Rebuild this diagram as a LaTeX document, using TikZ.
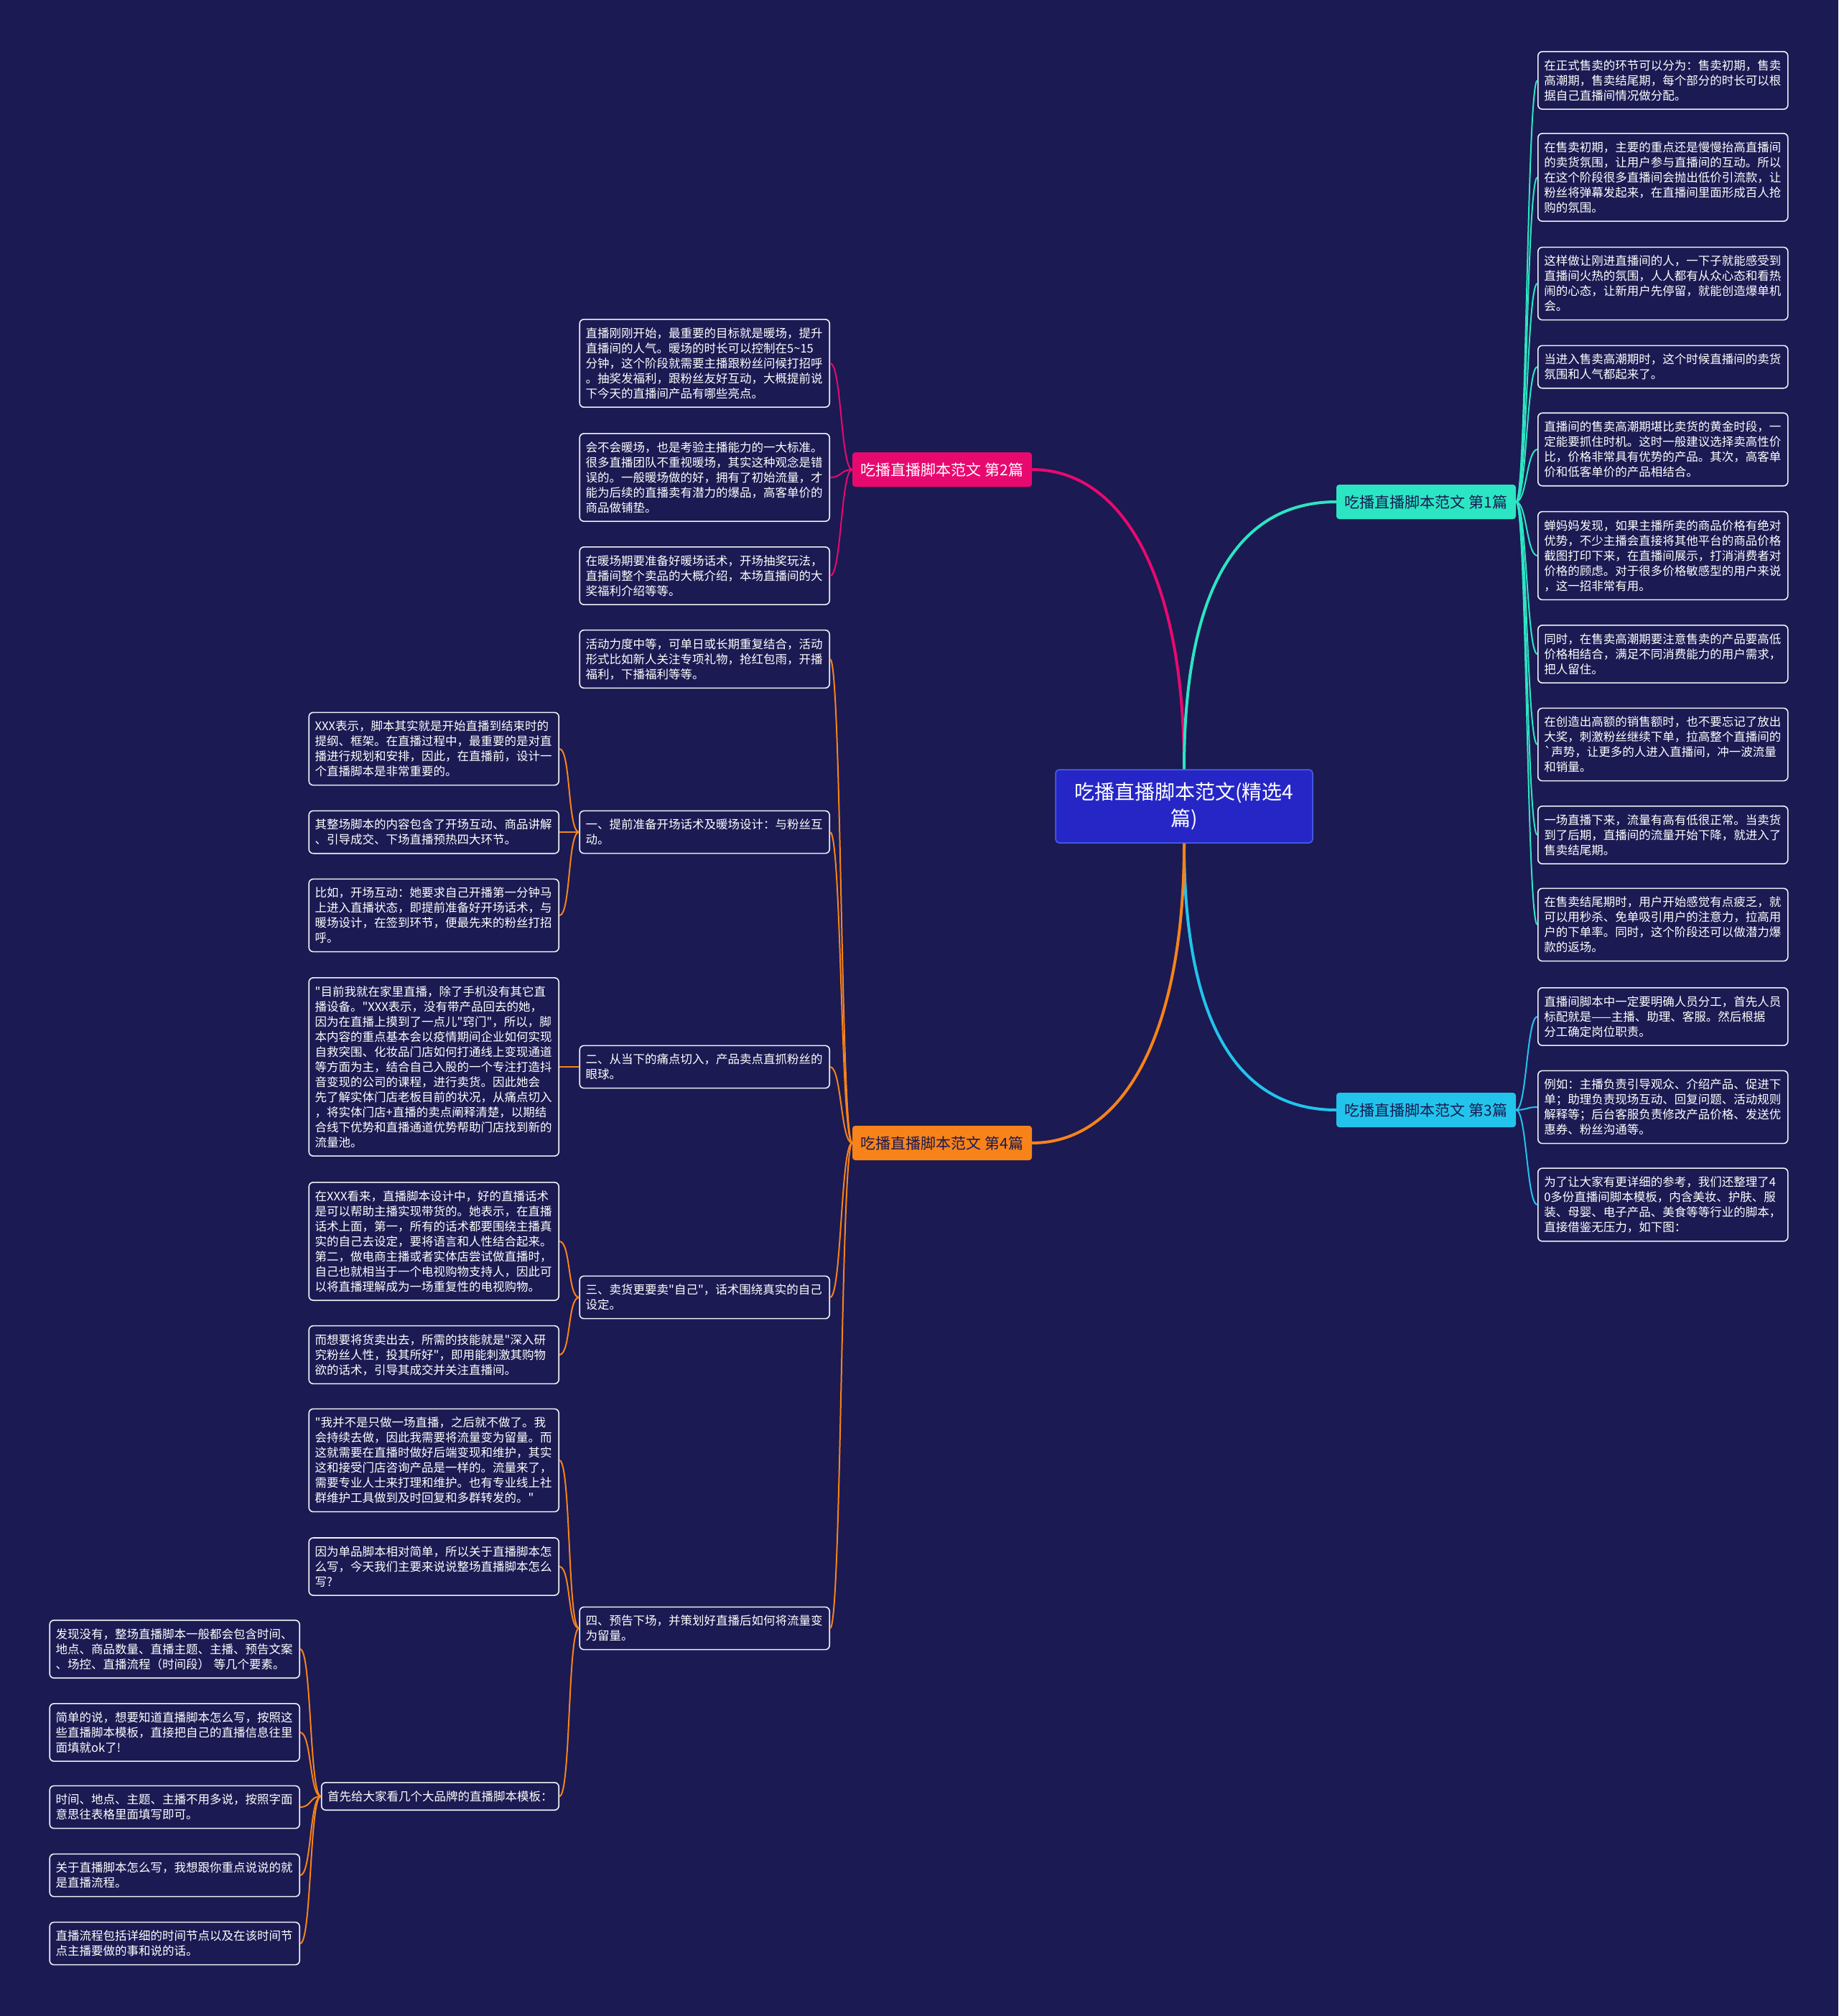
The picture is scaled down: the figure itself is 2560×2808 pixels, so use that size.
\documentclass[tikz,border=0pt]{standalone}
\usepackage{fontspec}
\setmainfont{Noto Sans CJK SC}[Ligatures=TeXOff]
\usepackage{xcolor}
\definecolor{cBg}{HTML}{1B1A52}
\definecolor{cRoot}{HTML}{2626C6}
\definecolor{cRootEdge}{HTML}{4A62E8}
\definecolor{cPink}{HTML}{E8096F}
\definecolor{cTeal}{HTML}{2CE5C2}
\definecolor{cCyan}{HTML}{22C4EC}
\definecolor{cOrange}{HTML}{F7831A}
\definecolor{cCard}{HTML}{F0F0F6}
\usepackage{tikz}
\tikzset{
  node-card/.style={draw=cCard,line width=1.6pt,rounded corners=6pt,fill=cBg,
    text=white,inner xsep=8.5pt,inner ysep=11.5pt,align=left,
    font=\fontsize{16.5}{21}\selectfont},
  node-leaf/.style={node-card,text width=331pt},
  node-branch/.style={rounded corners=4pt,minimum width=250pt,minimum height=48pt,
    inner sep=0pt,font=\fontsize{21}{25}\selectfont},
  node-root/.style={draw=cRootEdge,line width=1.5pt,fill=cRoot,text=white,
    rounded corners=5pt,minimum width=358pt,minimum height=102pt,align=center,
    font=\fontsize{28}{37.5}\selectfont},
  link/.style={line width=2pt},
  link-main/.style={line width=4pt},
  to-left/.style={to path={.. controls +(-16,0) and +(16,0) .. (\tikztotarget)}},
  to-right/.style={to path={.. controls +(15,0) and +(-15,0) .. (\tikztotarget)}},
}

\begin{document}
\begin{tikzpicture}[x=1pt,y=-1pt]
  \fill[cBg] (0,0) rectangle (2560,2808);
  \useasboundingbox (0,0) rectangle (2560,2808);

  % centre and the four branches
  \node[node-root] (root) at (1649,1123) {吃播直播脚本范文(精选4\\篇)};
  \node[node-branch,fill=cPink,text=white] (b2) at (1312,654) {吃播直播脚本范文 第2篇};
  \node[node-branch,fill=cTeal,text=cBg] (b1) at (1986,699) {吃播直播脚本范文 第1篇};
  \node[node-branch,fill=cCyan,text=cBg] (b3) at (1986,1546) {吃播直播脚本范文 第3篇};
  \node[node-branch,fill=cOrange,text=cBg] (b4) at (1312,1592) {吃播直播脚本范文 第4篇};

  % 第1篇
  \node[node-leaf,anchor=west] (r1) at (2141,112) {在正式售卖的环节可以分为：售卖初期，售卖\\
    高潮期，售卖结尾期，每个部分的时长可以根\\
    据自己直播间情况做分配。};
  \node[node-leaf,anchor=west] (r2) at (2141,247) {在售卖初期，主要的重点还是慢慢抬高直播间\\
    的卖货氛围，让用户参与直播间的互动。所以\\
    在这个阶段很多直播间会抛出低价引流款，让\\
    粉丝将弹幕发起来，在直播间里面形成百人抢\\
    购的氛围。};
  \node[node-leaf,anchor=west] (r3) at (2141,395) {这样做让刚进直播间的人，一下子就能感受到\\
    直播间火热的氛围，人人都有从众心态和看热\\
    闹的心态，让新用户先停留，就能创造爆单机\\
    会。};
  \node[node-leaf,anchor=west] (r4) at (2141,511) {当进入售卖高潮期时，这个时候直播间的卖货\\
    氛围和人气都起来了。};
  \node[node-leaf,anchor=west] (r5) at (2141,626) {直播间的售卖高潮期堪比卖货的黄金时段，一\\
    定能要抓住时机。这时一般建议选择卖高性价\\
    比，价格非常具有优势的产品。其次，高客单\\
    价和低客单价的产品相结合。};
  \node[node-leaf,anchor=west] (r6) at (2141,774) {蝉妈妈发现，如果主播所卖的商品价格有绝对\\
    优势，不少主播会直接将其他平台的商品价格\\
    截图打印下来，在直播间展示，打消消费者对\\
    价格的顾虑。对于很多价格敏感型的用户来说\\
    ，这一招非常有用。};
  \node[node-leaf,anchor=west] (r7) at (2141,911) {同时，在售卖高潮期要注意售卖的产品要高低\\
    价格相结合，满足不同消费能力的用户需求，\\
    把人留住。};
  \node[node-leaf,anchor=west] (r8) at (2141,1037) {在创造出高额的销售额时，也不要忘记了放出\\
    大奖，刺激粉丝继续下单，拉高整个直播间的\\
    `声势，让更多的人进入直播间，冲一波流量\\
    和销量。};
  \node[node-leaf,anchor=west] (r9) at (2141,1163) {一场直播下来，流量有高有低很正常。当卖货\\
    到了后期，直播间的流量开始下降，就进入了\\
    售卖结尾期。};
  \node[node-leaf,anchor=west] (r10) at (2141,1288) {在售卖结尾期时，用户开始感觉有点疲乏，就\\
    可以用秒杀、免单吸引用户的注意力，拉高用\\
    户的下单率。同时，这个阶段还可以做潜力爆\\
    款的返场。};

  % 第3篇
  \node[node-leaf,anchor=west] (r11) at (2141,1416) {直播间脚本中一定要明确人员分工，首先人员\\
    标配就是——主播、助理、客服。然后根据\\
    分工确定岗位职责。};
  \node[node-leaf,anchor=west] (r12) at (2141,1542) {例如：主播负责引导观众、介绍产品、促进下\\
    单；助理负责现场互动、回复问题、活动规则\\
    解释等；后台客服负责修改产品价格、发送优\\
    惠券、粉丝沟通等。};
  \node[node-leaf,anchor=west] (r13) at (2141,1678) {为了让大家有更详细的参考，我们还整理了4\\
    0多份直播间脚本模板，内含美妆、护肤、服\\
    装、母婴、电子产品、美食等等行业的脚本，\\
    直接借鉴无压力，如下图：};

  % 第2篇
  \node[node-leaf,anchor=east] (m1) at (1156,506) {直播刚刚开始，最重要的目标就是暖场，提升\\
    直播间的人气。暖场的时长可以控制在5\textasciitilde 15\\
    分钟，这个阶段就需要主播跟粉丝问候打招呼\\
    。抽奖发福利，跟粉丝友好互动，大概提前说\\
    下今天的直播间产品有哪些亮点。};
  \node[node-leaf,anchor=east] (m2) at (1156,665) {会不会暖场，也是考验主播能力的一大标准。\\
    很多直播团队不重视暖场，其实这种观念是错\\
    误的。一般暖场做的好，拥有了初始流量，才\\
    能为后续的直播卖有潜力的爆品，高客单价的\\
    商品做铺垫。};
  \node[node-leaf,anchor=east] (m3) at (1156,802) {在暖场期要准备好暖场话术，开场抽奖玩法，\\
    直播间整个卖品的大概介绍，本场直播间的大\\
    奖福利介绍等等。};

  % 第4篇
  \node[node-leaf,anchor=east] (m4) at (1156,918) {活动力度中等，可单日或长期重复结合，活动\\
    形式比如新人关注专项礼物，抢红包雨，开播\\
    福利，下播福利等等。};
  \node[node-leaf,anchor=east] (s1) at (1156,1159) {一、提前准备开场话术及暖场设计：与粉丝互\\
    动。};
  \node[node-leaf,anchor=east] (s2) at (1156,1486) {二、从当下的痛点切入，产品卖点直抓粉丝的\\
    眼球。};
  \node[node-leaf,anchor=east] (s3) at (1156,1807) {三、卖货更要卖"自己"，话术围绕真实的自己\\
    设定。};
  \node[node-leaf,anchor=east] (s4) at (1156,2268) {四、预告下场，并策划好直播后如何将流量变\\
    为留量。};

  \node[node-leaf,anchor=east] (l1) at (779,1043) {XXX表示，脚本其实就是开始直播到结束时的\\
    提纲、框架。在直播过程中，最重要的是对直\\
    播进行规划和安排，因此，在直播前，设计一\\
    个直播脚本是非常重要的。};
  \node[node-leaf,anchor=east] (l2) at (779,1159) {其整场脚本的内容包含了开场互动、商品讲解\\
    、引导成交、下场直播预热四大环节。};
  \node[node-leaf,anchor=east] (l3) at (779,1275) {比如，开场互动：她要求自己开播第一分钟马\\
    上进入直播状态，即提前准备好开场话术，与\\
    暖场设计，在签到环节，便最先来的粉丝打招\\
    呼。};
  \node[node-leaf,anchor=east] (l4) at (779,1486) {"目前我就在家里直播，除了手机没有其它直\\
    播设备。"XXX表示，没有带产品回去的她，\\
    因为在直播上摸到了一点儿"窍门"，所以，脚\\
    本内容的重点基本会以疫情期间企业如何实现\\
    自救突围、化妆品门店如何打通线上变现通道\\
    等方面为主，结合自己入股的一个专注打造抖\\
    音变现的公司的课程，进行卖货。因此她会\\
    先了解实体门店老板目前的状况，从痛点切入\\
    ，将实体门店+直播的卖点阐释清楚，以期结\\
    合线下优势和直播通道优势帮助门店找到新的\\
    流量池。};
  \node[node-leaf,anchor=east] (l5) at (779,1729) {在XXX看来，直播脚本设计中，好的直播话术\\
    是可以帮助主播实现带货的。她表示，在直播\\
    话术上面，第一，所有的话术都要围绕主播真\\
    实的自己去设定，要将语言和人性结合起来。\\
    第二，做电商主播或者实体店尝试做直播时，\\
    自己也就相当于一个电视购物支持人，因此可\\
    以将直播理解成为一场重复性的电视购物。};
  \node[node-leaf,anchor=east] (l6) at (779,1887) {而想要将货卖出去，所需的技能就是"深入研\\
    究粉丝人性，投其所好"，即用能刺激其购物\\
    欲的话术，引导其成交并关注直播间。};
  \node[node-leaf,anchor=east] (l7) at (779,2034) {"我并不是只做一场直播，之后就不做了。我\\
    会持续去做，因此我需要将流量变为留量。而\\
    这就需要在直播时做好后端变现和维护，其实\\
    这和接受门店咨询产品是一样的。流量来了，\\
    需要专业人士来打理和维护。也有专业线上社\\
    群维护工具做到及时回复和多群转发的。"};
  \node[node-leaf,anchor=east] (l8) at (779,2182) {因为单品脚本相对简单，所以关于直播脚本怎\\
    么写，今天我们主要来说说整场直播脚本怎么\\
    写?};
  \node[node-card,anchor=east] (tpl) at (779,2502) {首先给大家看几个大品牌的直播脚本模板：};

  \node[node-leaf,anchor=east] (t1) at (418,2297) {发现没有，整场直播脚本一般都会包含时间、\\
    地点、商品数量、直播主题、主播、预告文案\\
    、场控、直播流程（时间段） 等几个要素。};
  \node[node-leaf,anchor=east] (t2) at (418,2413) {简单的说，想要知道直播脚本怎么写，按照这\\
    些直播脚本模板，直接把自己的直播信息往里\\
    面填就ok了!};
  \node[node-leaf,anchor=east] (t3) at (418,2517) {时间、地点、主题、主播不用多说，按照字面\\
    意思往表格里面填写即可。};
  \node[node-leaf,anchor=east] (t4) at (418,2612) {关于直播脚本怎么写，我想跟你重点说说的就\\
    是直播流程。};
  \node[node-leaf,anchor=east] (t5) at (418,2707) {直播流程包括详细的时间节点以及在该时间节\\
    点主播要做的事和说的话。};

  % links from the centre
  \draw[link-main,draw=cPink] (root.north) .. controls +(0,-270) and +(125,0) .. (b2.east);
  \draw[link-main,draw=cTeal] (root.north) .. controls +(0,-270) and +(-125,0) .. (b1.west);
  \draw[link-main,draw=cCyan] (root.south) .. controls +(0,270) and +(-125,0) .. (b3.west);
  \draw[link-main,draw=cOrange] (root.south) .. controls +(0,270) and +(125,0) .. (b4.east);

  % links to the cards
  \draw[link,draw=cTeal] (b1.east) to[to-right] (r1.west);
  \draw[link,draw=cTeal] (b1.east) to[to-right] (r2.west);
  \draw[link,draw=cTeal] (b1.east) to[to-right] (r3.west);
  \draw[link,draw=cTeal] (b1.east) to[to-right] (r4.west);
  \draw[link,draw=cTeal] (b1.east) to[to-right] (r5.west);
  \draw[link,draw=cTeal] (b1.east) to[to-right] (r6.west);
  \draw[link,draw=cTeal] (b1.east) to[to-right] (r7.west);
  \draw[link,draw=cTeal] (b1.east) to[to-right] (r8.west);
  \draw[link,draw=cTeal] (b1.east) to[to-right] (r9.west);
  \draw[link,draw=cTeal] (b1.east) to[to-right] (r10.west);
  \draw[link,draw=cCyan] (b3.east) to[to-right] (r11.west);
  \draw[link,draw=cCyan] (b3.east) to[to-right] (r12.west);
  \draw[link,draw=cCyan] (b3.east) to[to-right] (r13.west);
  \draw[link,draw=cPink] (b2.west) to[to-left] (m1.east);
  \draw[link,draw=cPink] (b2.west) to[to-left] (m2.east);
  \draw[link,draw=cPink] (b2.west) to[to-left] (m3.east);
  \draw[link,draw=cOrange] (b4.west) to[to-left] (m4.east);
  \draw[link,draw=cOrange] (b4.west) to[to-left] (s1.east);
  \draw[link,draw=cOrange] (b4.west) to[to-left] (s2.east);
  \draw[link,draw=cOrange] (b4.west) to[to-left] (s3.east);
  \draw[link,draw=cOrange] (b4.west) to[to-left] (s4.east);
  \draw[link,draw=cOrange] (s1.west) to[to-left] (l1.east);
  \draw[link,draw=cOrange] (s1.west) to[to-left] (l2.east);
  \draw[link,draw=cOrange] (s1.west) to[to-left] (l3.east);
  \draw[link,draw=cOrange] (s2.west) to[to-left] (l4.east);
  \draw[link,draw=cOrange] (s3.west) to[to-left] (l5.east);
  \draw[link,draw=cOrange] (s3.west) to[to-left] (l6.east);
  \draw[link,draw=cOrange] (s4.west) to[to-left] (l7.east);
  \draw[link,draw=cOrange] (s4.west) to[to-left] (l8.east);
  \draw[link,draw=cOrange] (s4.west) to[to-left] (tpl.east);
  \draw[link,draw=cOrange] (tpl.west) to[to-left] (t1.east);
  \draw[link,draw=cOrange] (tpl.west) to[to-left] (t2.east);
  \draw[link,draw=cOrange] (tpl.west) to[to-left] (t3.east);
  \draw[link,draw=cOrange] (tpl.west) to[to-left] (t4.east);
  \draw[link,draw=cOrange] (tpl.west) to[to-left] (t5.east);
\end{tikzpicture}
\end{document}
